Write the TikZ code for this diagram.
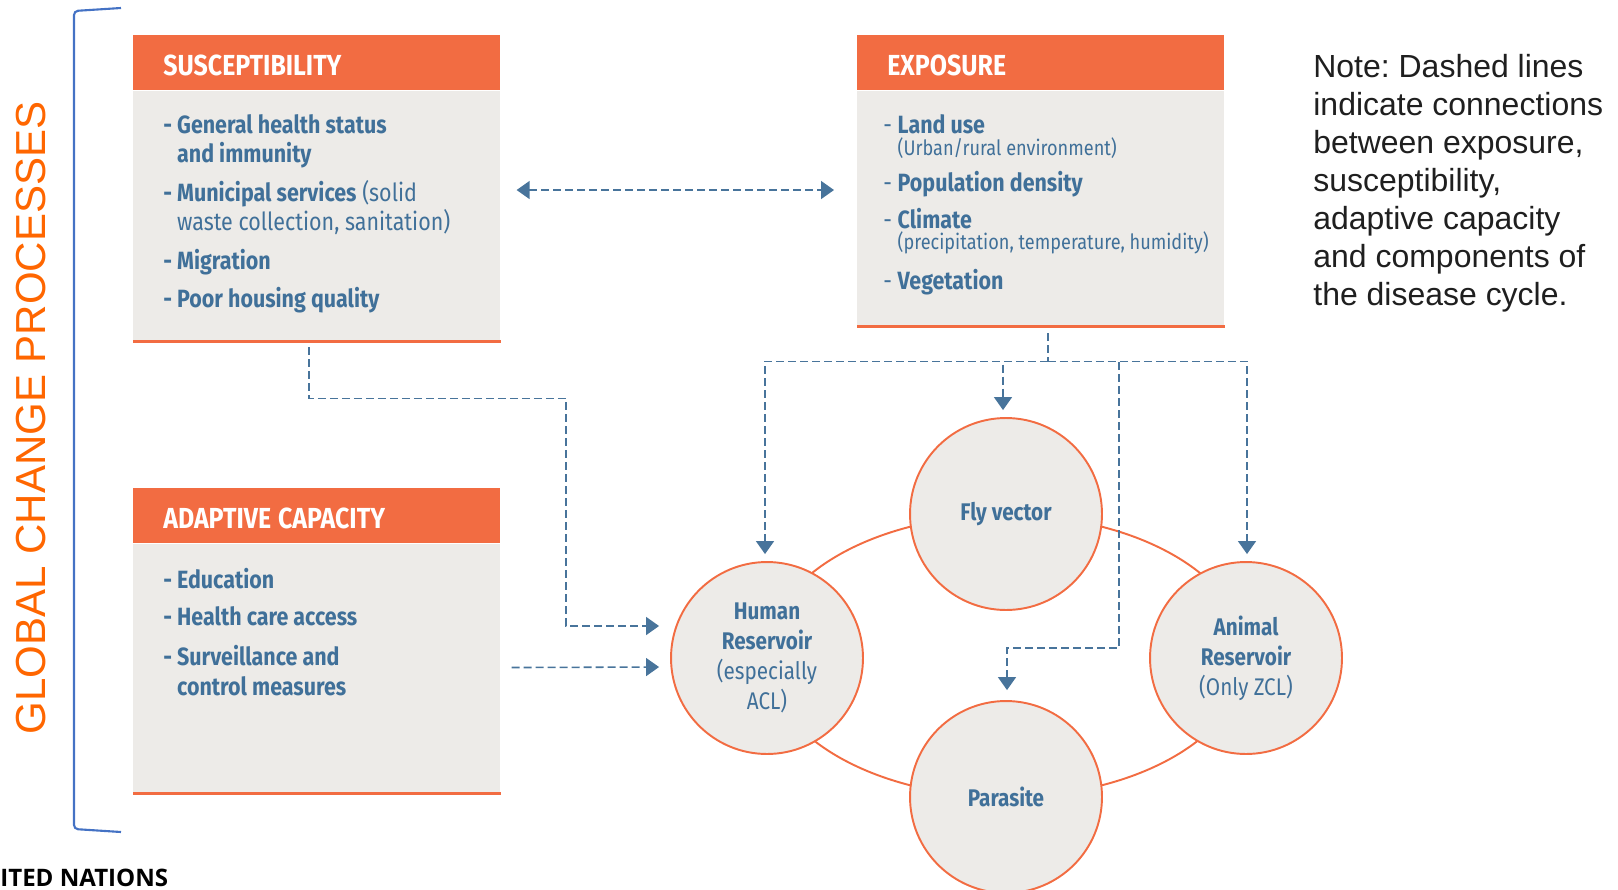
\documentclass[tikz,border=0pt]{standalone}
\usepackage{fontspec}
\setmainfont{Liberation Sans}
\newfontfamily\boxfont[FakeStretch=0.86]{Fira Sans}
\newfontfamily\unfont{Open Sans}
\usetikzlibrary{calc,positioning,arrows.meta}
\definecolor{hdorange}{RGB}{242,108,66}
\definecolor{boxgray}{RGB}{237,235,232}
\definecolor{txtblue}{RGB}{64,112,153}
\definecolor{dashblue}{RGB}{72,116,155}
\definecolor{globorange}{RGB}{255,102,0}
\definecolor{brackblue}{RGB}{68,114,196}
\frenchspacing
\tikzset{
    header/.style={
    rectangle,fill=hdorange,text=white,text width=6.14cm,inner xsep=0.6cm,inner ysep=0pt,
    minimum height=1.1cm,text height=0.5cm,align=left,font=\boxfont\bfseries\fontsize{16.5pt}{18pt}\selectfont
    },
    bodybox/.style={
    rectangle,fill=boxgray,minimum width=7.34cm,inner sep=0pt
    },
    itemtext/.style={
    text=txtblue,align=left,inner sep=0pt,anchor=north west,font=\boxfont\fontsize{14.2pt}{16.5pt}\selectfont
    },
    cyclenode/.style={
    circle,draw=hdorange,line width=1.1pt,fill=boxgray,minimum size=3.84cm,inner sep=0pt,
    text=txtblue,align=center,font=\boxfont\fontsize{13.7pt}{17pt}\selectfont
    },
  ring/.style={draw=hdorange, line width=1.1pt},
  link/.style={draw=dashblue, line width=0.9pt, dash pattern=on 0.16cm off 0.08cm, -{Triangle[width=0.36cm,length=0.26cm]}},
  botline/.style={draw=hdorange, line width=2pt},
  notetext/.style={align=left, inner sep=0pt, anchor=north west, text=black!88, font=\fontsize{18.2pt}{21.6pt}\selectfont}
}
\newcommand{\subsz}{\fontsize{12pt}{13pt}\selectfont}

\begin{document}
\begin{tikzpicture}[x=0.02cm,y=-0.02cm]
    \useasboundingbox (0,0) rectangle (1618,889);
    \clip (0,0) rectangle (1618,889);

    % bracket and side title
    \draw[brackblue, line width=1.2pt, rounded corners=0.08cm] (121,8) -- (74,11) -- (74,829) -- (121,832);
    \node[rotate=90, text=globorange, inner sep=0pt, font=\fontsize{23.9pt}{26pt}\selectfont] (gcp) at (31,418) {GLOBAL CHANGE PROCESSES};

    % boxes
    \node[header, anchor=north west] (susc) at (133,35) {SUSCEPTIBILITY};
    \node[bodybox, minimum height=5cm, below=0pt of susc] (suscb) {};
    \draw[botline] (suscb.south west) -- (suscb.south east);
    \node[itemtext] (susct) at ($(suscb.north west)+(30,24)$) {%
      \textbf{- General health status}\\
      \phantom{\textbf{- }}\textbf{and immunity}\\[0.2cm]
      \textbf{- Municipal services} (solid\\
      \phantom{\textbf{- }}waste collection, sanitation)\\[0.2cm]
      \textbf{- Migration}\\[0.18cm]
      \textbf{- Poor housing quality}};

    \node[header, anchor=north west] (expo) at (857,35) {EXPOSURE};
    \node[bodybox, minimum height=4.7cm, below=0pt of expo] (expb) {};
    \draw[botline] (expb.south west) -- (expb.south east);
    \node[itemtext] (expt) at ($(expb.north west)+(26,24)$) {%
      - \textbf{Land use}\\[-0.14cm]
      \phantom{- }{\subsz (Urban/rural environment)}\\[0.14cm]
      - \textbf{Population density}\\[0.16cm]
      - \textbf{Climate}\\[-0.16cm]
      \phantom{- }{\subsz (precipitation, temperature, humidity)}\\[0.22cm]
      - \textbf{Vegetation}};

    \node[header, anchor=north west] (adap) at (133,488) {ADAPTIVE\hspace{0.14cm}CAPACITY};
    \node[bodybox, minimum height=4.98cm, below=0pt of adap] (adpb) {};
    \draw[botline] (adpb.south west) -- (adpb.south east);
    \node[itemtext] (adpt) at ($(adpb.north west)+(30,24)$) {%
      \textbf{- Education}\\[0.16cm]
      \textbf{- Health care access}\\[0.22cm]
      \textbf{- Surveillance and}\\[0.02cm]
      \phantom{\textbf{- }}\textbf{control measures}};

    % disease cycle
    \coordinate (cyc) at (1006,656);
    \draw[ring] (cyc) ellipse [x radius=4.8cm, y radius=2.82cm];
    \node[cyclenode] (fly) at (1006,514) {\textbf{Fly vector}};
    \node[cyclenode] (human) at (767,658) {\textbf{Human}\\\textbf{Reservoir}\\(especially\\ACL)};
    \node[cyclenode] (animal) at (1246,658) {\textbf{Animal}\\\textbf{Reservoir}\\(Only ZCL)};
    \node[cyclenode] (para) at (1006,797) {\textbf{Parasite}};

    % dashed connections
    \draw[link,{Triangle[width=0.36cm,length=0.26cm]}-{Triangle[width=0.36cm,length=0.26cm]}]
      ($(suscb.east)+(16,-26)$) -- ($(expb.west |- suscb.east)+(-23,-26)$);
    \draw[link] ($(suscb.south)+(-8,6)$) -- ++(0,51) -| ($(human.west)+(-104,-32)$) -- ($(human.west)+(-11,-32)$);
    \draw[link] ($(adpb.east)+(11,-1)$) -- ($(human.west)+(-11,9)$);

    \coordinate (hub) at ($(expb.south)+(7,35)$);
    \draw[link,-] ($(expb.south)+(7,7)$) -- (hub);
    \draw[link] (hub) -| ($(human.north)+(-2,-7)$);
    \draw[link] (hub) -| ($(animal.north)+(1,-7)$);
    \draw[link] (hub) -| ($(fly.north)+(-3,-7)$);
    \draw[link] (hub) -| ($(para.north)+(113,-52)$) -| ($(para.north)+(1,-10)$);

    % note
    \node[notetext] (note) at (1313,54) {Note: Dashed lines\\indicate connections\\between exposure,\\susceptibility,\\adaptive capacity\\and components of\\the disease cycle.};

    \node[anchor=base west, inner sep=0pt, font=\unfont\bfseries\fontsize{13.7pt}{15pt}\selectfont] (un) at (0,886) {ITED NATIONS};
  \end{tikzpicture}
\end{document}
